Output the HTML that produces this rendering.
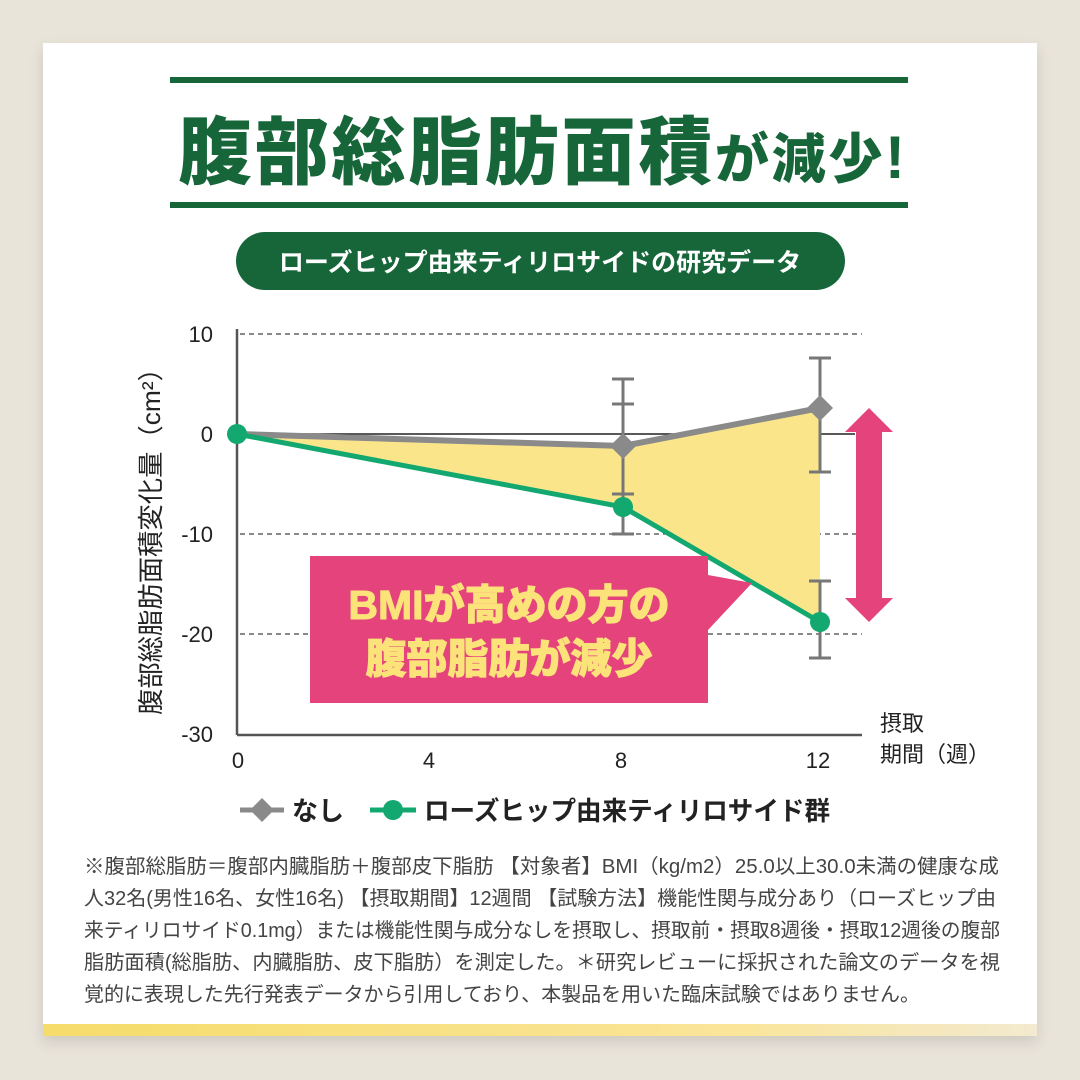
<!DOCTYPE html><html><head><meta charset="utf-8"><style>
body{margin:0;width:1080px;height:1080px;background:#e9e4da;position:relative;overflow:hidden;font-family:"Liberation Sans","Noto Sans CJK JP",sans-serif}
.card{position:absolute;left:43px;top:43px;width:994px;height:993px;background:#fff;box-shadow:0 6px 14px rgba(0,0,0,.12)}
.gold{position:absolute;left:43px;top:1024px;width:994px;height:12px;background:linear-gradient(90deg,#f6dc6a,#fae59a 70%,#f3ead0)}
</style></head><body>
<div class="card"></div><div class="gold"></div>
<svg width="1080" height="1080" style="position:absolute;left:0;top:0" font-family="Liberation Sans, Noto Sans CJK JP, sans-serif">
<rect x="170" y="77" width="738" height="6" fill="#17663a"/>
<rect x="170" y="202" width="738" height="6" fill="#17663a"/>
<text x="178" y="178" font-size="74" font-weight="900" fill="#17663a" textLength="727" lengthAdjust="spacing">腹部総脂肪面積<tspan font-size="54">が減少</tspan><tspan font-size="60">!</tspan></text>
<rect x="236" y="232" width="609" height="58" rx="29" fill="#17663a"/>
<text x="540" y="271" font-size="25" font-weight="700" fill="#fff" text-anchor="middle">ローズヒップ由来ティリロサイドの研究データ</text>
<g stroke="#444" stroke-width="1.3" stroke-dasharray="5,4">
<line x1="240" y1="334" x2="862" y2="334"/><line x1="240" y1="534" x2="862" y2="534"/><line x1="240" y1="634" x2="862" y2="634"/></g>
<line x1="237" y1="434" x2="855" y2="434" stroke="#222" stroke-width="1.5"/>
<polygon points="237,434 623,446 820,408 820,622 623,507" fill="#fbe58a"/>
<line x1="237" y1="329" x2="237" y2="735" stroke="#555" stroke-width="2.5"/>
<line x1="237" y1="735" x2="862" y2="735" stroke="#555" stroke-width="2.5"/>
<g stroke="#777" stroke-width="3">
<line x1="623" y1="379" x2="623" y2="512"/><line x1="612" y1="379" x2="634" y2="379"/><line x1="612" y1="404" x2="634" y2="404"/><line x1="612" y1="494" x2="634" y2="494"/><line x1="612" y1="534" x2="634" y2="534"/><line x1="623" y1="494" x2="623" y2="534"/>
<line x1="820" y1="358" x2="820" y2="472"/><line x1="809" y1="358" x2="831" y2="358"/><line x1="809" y1="472" x2="831" y2="472"/>
<line x1="820" y1="581" x2="820" y2="658"/><line x1="809" y1="581" x2="831" y2="581"/><line x1="809" y1="658" x2="831" y2="658"/></g>
<polyline points="237,434 623,446 820,408" fill="none" stroke="#8a8a8a" stroke-width="6"/>
<g fill="#8a8a8a"><polygon points="623,433 636,446 623,459 610,446"/><polygon points="820,395 833,408 820,421 807,408"/></g>
<polyline points="237,434 623,507 820,622" fill="none" stroke="#12a86f" stroke-width="5"/>
<g fill="#12a86f"><circle cx="237" cy="434" r="10"/><circle cx="623" cy="507" r="10"/><circle cx="820" cy="622" r="10"/></g>
<polygon points="310,556 708,556 708,575 752,583 708,630 708,703 310,703" fill="#e5437c"/>
<text x="509" y="619" font-size="41" font-weight="900" fill="#fbe37a" text-anchor="middle" stroke="#fbe37a" stroke-width="1">BMIが高めの方の</text>
<text x="509" y="673" font-size="41" font-weight="900" fill="#fbe37a" text-anchor="middle" stroke="#fbe37a" stroke-width="1">腹部脂肪が減少</text>
<polygon points="869,408 893,432 882,432 882,598 893,598 869,622 845,598 856,598 856,432 845,432" fill="#e5437c"/>
<g font-size="22" fill="#222" text-anchor="end"><text x="213" y="342">10</text><text x="213" y="442">0</text><text x="213" y="542">-10</text><text x="213" y="642">-20</text><text x="213" y="742">-30</text></g>
<g font-size="22" fill="#222" text-anchor="middle"><text x="238" y="768">0</text><text x="429" y="768">4</text><text x="621" y="768">8</text><text x="818" y="768">12</text></g>
<text x="880" y="731" font-size="22" fill="#222">摂取</text><text x="880" y="762" font-size="22" fill="#222">期間（週）</text>
<text transform="translate(160,535) rotate(-90)" font-size="26" fill="#222" text-anchor="middle" textLength="360" lengthAdjust="spacingAndGlyphs">腹部総脂肪面積変化量（cm²）</text>
<line x1="240" y1="810" x2="284" y2="810" stroke="#8a8a8a" stroke-width="5"/><polygon points="262,798 274,810 262,822 250,810" fill="#8a8a8a"/>
<text x="292" y="820" font-size="26" font-weight="700" fill="#222">なし</text>
<line x1="370" y1="810" x2="416" y2="810" stroke="#12a86f" stroke-width="5"/><circle cx="393" cy="810" r="10" fill="#12a86f"/>
<text x="424" y="820" font-size="26" font-weight="700" fill="#222" textLength="406" lengthAdjust="spacingAndGlyphs">ローズヒップ由来ティリロサイド群</text>
<g font-size="20" fill="#444" lengthAdjust="spacingAndGlyphs">
<text x="84" y="873" textLength="915" lengthAdjust="spacingAndGlyphs">※腹部総脂肪＝腹部内臓脂肪＋腹部皮下脂肪 【対象者】BMI（kg/m2）25.0以上30.0未満の健康な成</text>
<text x="84" y="905" textLength="912" lengthAdjust="spacingAndGlyphs">人32名(男性16名、女性16名) 【摂取期間】12週間 【試験方法】機能性関与成分あり（ローズヒップ由</text>
<text x="84" y="937" textLength="916" lengthAdjust="spacingAndGlyphs">来ティリロサイド0.1mg）または機能性関与成分なしを摂取し、摂取前・摂取8週後・摂取12週後の腹部</text>
<text x="84" y="969" textLength="916" lengthAdjust="spacingAndGlyphs">脂肪面積(総脂肪、内臓脂肪、皮下脂肪）を測定した。＊研究レビューに採択された論文のデータを視</text>
<text x="84" y="1001" textLength="836" lengthAdjust="spacingAndGlyphs">覚的に表現した先行発表データから引用しており、本製品を用いた臨床試験ではありません。</text></g>
</svg></body></html>
